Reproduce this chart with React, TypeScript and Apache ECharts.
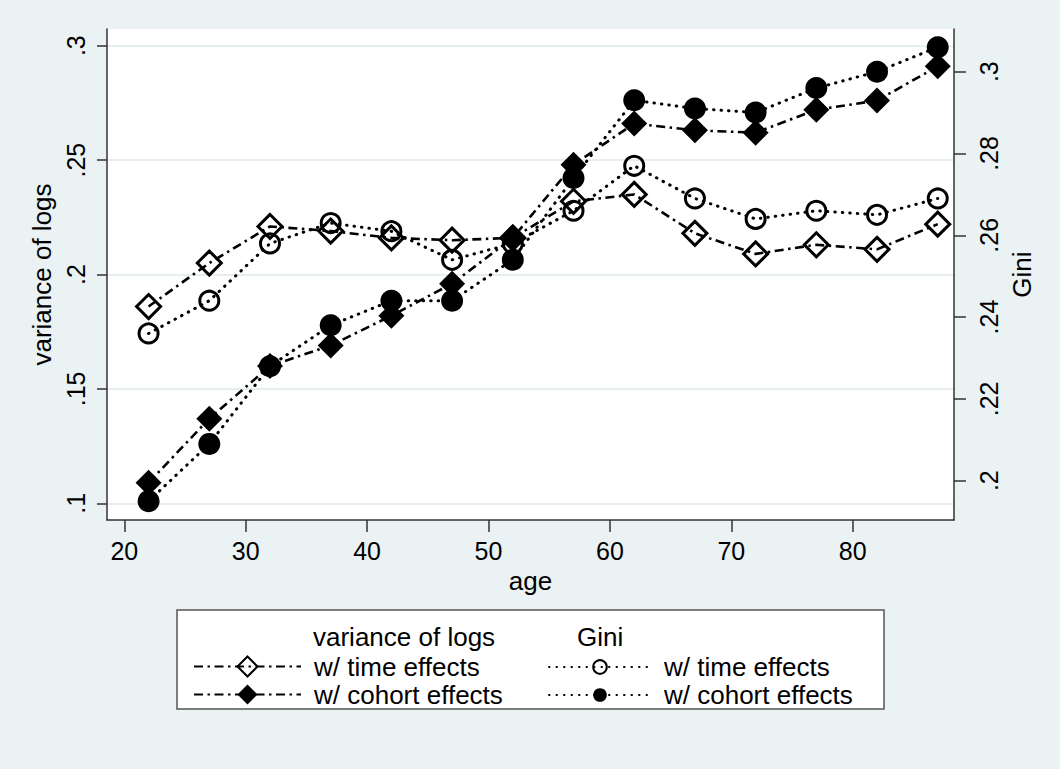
import React, { useEffect, useRef } from "react";
import * as echarts from "echarts";

const ages = [22, 27, 32, 37, 42, 47, 52, 57, 62, 67, 72, 77, 82, 87];
const varTime = [0.186, 0.205, 0.221, 0.219, 0.216, 0.215, 0.216, 0.232, 0.235, 0.218, 0.209, 0.213, 0.211, 0.222];
const varCohort = [0.109, 0.137, 0.16, 0.169, 0.182, 0.196, 0.216, 0.248, 0.266, 0.263, 0.262, 0.272, 0.276, 0.291];
const giniTime = [0.236, 0.244, 0.258, 0.263, 0.261, 0.254, 0.258, 0.266, 0.277, 0.269, 0.264, 0.266, 0.265, 0.269];
const giniCohort = [0.195, 0.209, 0.228, 0.238, 0.244, 0.244, 0.254, 0.274, 0.293, 0.291, 0.29, 0.296, 0.3, 0.306];

const xTicks = [20, 30, 40, 50, 60, 70, 80];
const leftTicks = [0.1, 0.15, 0.2, 0.25, 0.3];
const rightTicks = [0.2, 0.22, 0.24, 0.26, 0.28, 0.3];

const legendLabels: Record<string, string> = {
  var_time: "w/ time effects",
  var_cohort: "w/ cohort effects",
  gini_time: "w/ time effects",
  gini_cohort: "w/ cohort effects",
};

const FONT = "'Liberation Sans', Arial, sans-serif";
const AXIS_COLOR = "#333";
const pairs = (vals: number[]) => ages.map((a, i) => [a, vals[i]]);
const stripZero = (v: number) => String(v).replace(/^0\./, ".");

export default function App() {
  const ref = useRef<HTMLDivElement>(null);
  useEffect(() => {
    if (!ref.current) return;
    const chart = echarts.init(ref.current, undefined, { renderer: "svg" });
    const dashDot = [9, 4.5, 2.5, 4.5];
    const dotted = [0.5, 7];
    const mkLegend = (name: string, left: number, top: number, w: number, h: number) => ({
      data: [name],
      left,
      top,
      orient: "horizontal",
      itemWidth: w,
      itemHeight: h,
      padding: 0,
      selectedMode: false,
      formatter: (n: string) => legendLabels[n],
      textStyle: { fontSize: 26, color: "#000", fontFamily: FONT, padding: [0, 0, 0, 8] },
    });
    const option: any = {
      animation: false,
      backgroundColor: "#EAF2F3",
      textStyle: { fontFamily: FONT },
      grid: { left: 107, right: 106, top: 29, bottom: 249, show: true, backgroundColor: "#fff", borderWidth: 0 },
      xAxis: {
        type: "value",
        min: 18.575,
        max: 88.34,
        axisLine: { show: true, onZero: false, lineStyle: { color: AXIS_COLOR, width: 1.5 } },
        axisTick: { show: true, length: 12, customValues: xTicks, lineStyle: { color: AXIS_COLOR, width: 1.5 } },
        axisLabel: { customValues: xTicks, fontSize: 25, color: "#000", margin: 18, fontFamily: FONT },
        splitLine: { show: false },
        name: "age",
        nameLocation: "middle",
        nameGap: 40,
        nameTextStyle: { fontSize: 26, color: "#000", fontFamily: FONT },
      },
      yAxis: [
        {
          type: "value",
          position: "left",
          min: 0.0927,
          max: 0.3073,
          axisLine: { show: true, onZero: false, lineStyle: { color: AXIS_COLOR, width: 1.5 } },
          axisTick: { show: true, length: 10, customValues: leftTicks, lineStyle: { color: AXIS_COLOR, width: 1.5 } },
          axisLabel: { customValues: leftTicks, rotate: 90, fontSize: 25, color: "#000", margin: 19, formatter: stripZero, fontFamily: FONT },
          splitLine: { show: true, lineStyle: { color: "#E6EEF0", width: 2 } },
          name: "variance of logs",
          nameLocation: "middle",
          nameRotate: 90,
          nameGap: 49,
          nameTextStyle: { fontSize: 26, color: "#000", fontFamily: FONT },
        },
        {
          type: "value",
          position: "right",
          min: 0.19039,
          max: 0.31044,
          axisLine: { show: true, onZero: false, lineStyle: { color: AXIS_COLOR, width: 1.5 } },
          axisTick: { show: true, length: 12, customValues: rightTicks, lineStyle: { color: AXIS_COLOR, width: 1.5 } },
          axisLabel: { customValues: rightTicks, rotate: 90, fontSize: 25, color: "#000", margin: 22, formatter: stripZero, fontFamily: FONT },
          splitLine: { show: false },
          name: "Gini",
          nameLocation: "middle",
          nameRotate: 90,
          nameGap: 42,
          nameTextStyle: { fontSize: 26, color: "#000", fontFamily: FONT },
        },
      ],
      legend: [
        mkLegend("var_time", 193, 653.5, 107, 25),
        mkLegend("var_cohort", 193, 681.5, 107, 25),
        mkLegend("gini_time", 548, 654, 102, 17),
        mkLegend("gini_cohort", 548, 682, 102, 17),
      ],
      graphic: [
        {
          type: "rect",
          shape: { x: 177, y: 610, width: 707, height: 99 },
          style: { fill: "#fff", stroke: "#555", lineWidth: 1.5 },
          z: 0,
        },
        {
          type: "text",
          x: 313,
          y: 637,
          style: { text: "variance of logs", fontSize: 26, fontFamily: FONT, fill: "#000", verticalAlign: "middle", align: "left" },
          z: 5,
        },
        {
          type: "text",
          x: 577,
          y: 637,
          style: { text: "Gini", fontSize: 26, fontFamily: FONT, fill: "#000", verticalAlign: "middle", align: "left" },
          z: 5,
        },
      ],
      series: [
        {
          name: "var_time",
          type: "line",
          yAxisIndex: 0,
          data: pairs(varTime),
          symbol: "diamond",
          symbolSize: 24,
          lineStyle: { color: "#000", width: 2.6, type: dashDot },
          itemStyle: { color: "rgba(0,0,0,0)", borderColor: "#000", borderWidth: 3 },
        },
        {
          name: "var_cohort",
          type: "line",
          yAxisIndex: 0,
          data: pairs(varCohort),
          symbol: "diamond",
          symbolSize: 26,
          lineStyle: { color: "#000", width: 2.6, type: dashDot },
          itemStyle: { color: "#000", borderColor: "#000", borderWidth: 0 },
        },
        {
          name: "gini_time",
          type: "line",
          yAxisIndex: 1,
          data: pairs(giniTime),
          symbol: "circle",
          symbolSize: 19,
          lineStyle: { color: "#000", width: 3, type: dotted, cap: "round" },
          itemStyle: { color: "rgba(0,0,0,0)", borderColor: "#000", borderWidth: 3 },
        },
        {
          name: "gini_cohort",
          type: "line",
          yAxisIndex: 1,
          data: pairs(giniCohort),
          symbol: "circle",
          symbolSize: 22,
          lineStyle: { color: "#000", width: 3, type: dotted, cap: "round" },
          itemStyle: { color: "#000", borderColor: "#000", borderWidth: 0 },
        },
      ],
    };
    chart.setOption(option);
    return () => chart.dispose();
  }, []);
  return (
    <div
      ref={ref}
      style={{ position: "fixed", left: 0, top: 0, width: 1060, height: 769 }}
    />
  );
}
